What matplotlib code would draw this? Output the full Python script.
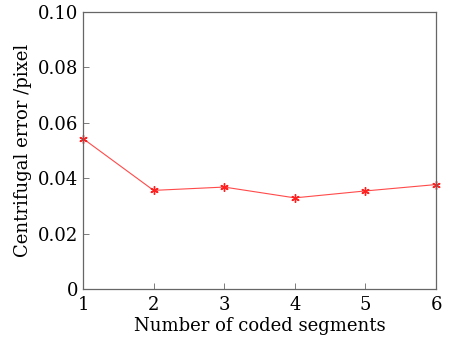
import matplotlib
matplotlib.use("Agg")
import matplotlib.pyplot as plt

segments = [1, 2, 3, 4, 5, 6]
error = [0.0543, 0.0356, 0.0368, 0.0329, 0.0354, 0.0377]
yticks = [0, 0.02, 0.04, 0.06, 0.08, 0.10]
ylabels = ["0", "0.02", "0.04", "0.06", "0.08", "0.10"]

plt.rcParams['font.family'] = ['DejaVu Serif']
fig = plt.figure(figsize=(4.53, 3.39), dpi=100)
ax = fig.add_axes([83/453, 50/339, 353/453, 277/339])
ax.plot(segments, error, color="#ff4a4a", lw=0.8, marker=(6, 2, 0), markersize=6,
        markeredgewidth=1.0, markeredgecolor="#ff2020", clip_on=False)
ax.set_xlim(1, 6)
ax.set_ylim(0, 0.10)
ax.set_yticks(yticks)
ax.set_yticklabels(ylabels)
ax.tick_params(direction="in", labelsize=13, length=4, width=0.6, colors="#666666", labelcolor="black")
ax.tick_params(axis="x", pad=5)
for s in ax.spines.values():
    s.set_color("#666666")
    s.set_linewidth(0.9)
ax.set_xlabel("Number of coded segments", fontsize=13, labelpad=2)
ax.set_ylabel("Centrifugal error /pixel", fontsize=13, labelpad=4)
fig.savefig("out.png", dpi=100)
